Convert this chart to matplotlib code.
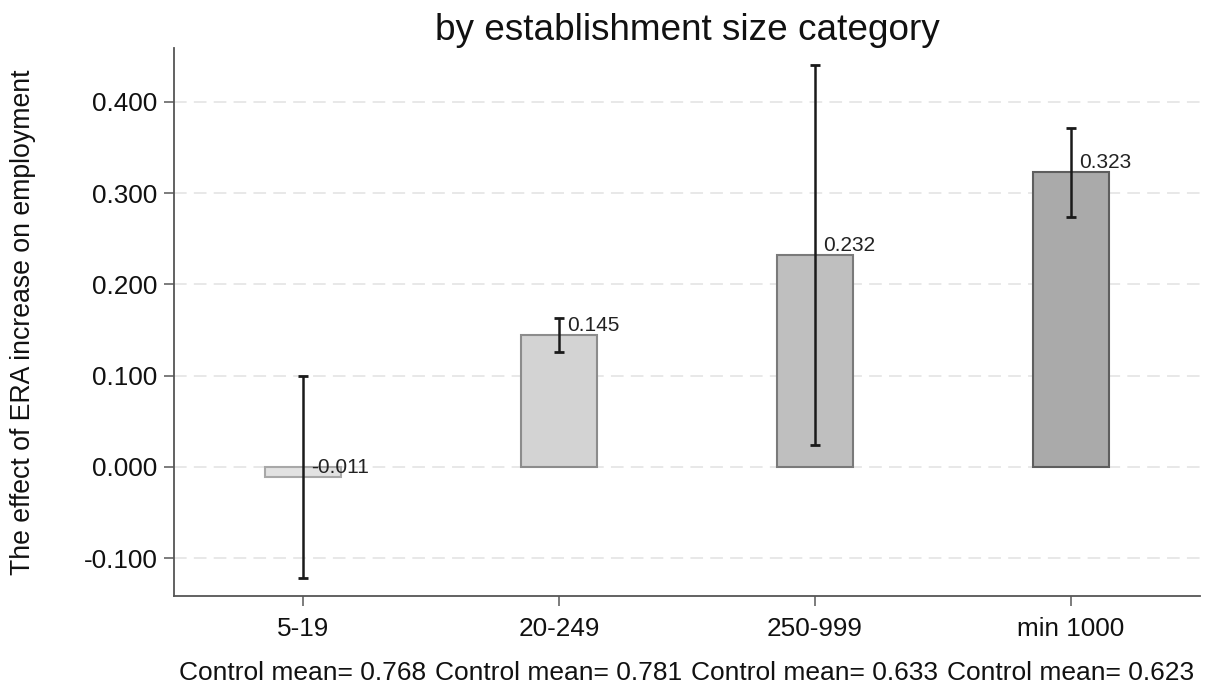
import matplotlib
matplotlib.use("Agg")
import matplotlib.pyplot as plt
from matplotlib.transforms import blended_transform_factory

plt.rcParams['font.family'] = ['Liberation Sans', 'DejaVu Sans']

categories = ["5-19", "20-249", "250-999", "min 1000"]
effects = [-0.011, 0.145, 0.232, 0.323]
ci_low = [-0.122, 0.126, 0.024, 0.274]
ci_high = [0.100, 0.163, 0.440, 0.371]
control_means = [0.768, 0.781, 0.633, 0.623]
bar_colors = ["#e2e2e2", "#d3d3d3", "#bfbfbf", "#aaaaaa"]
edge_colors = ["#a8a8a8", "#8c8c8c", "#7a7a7a", "#5e5e5e"]
yticks = [-0.1, 0.0, 0.1, 0.2, 0.3, 0.4]

fig = plt.figure(figsize=(12.06, 6.89), dpi=100)
ax = fig.add_axes([174 / 1206, 93 / 689, 1026 / 1206, 548 / 689])

x = list(range(len(categories)))
ax.bar(x, effects, width=0.30, color=bar_colors, edgecolor=edge_colors,
       linewidth=1.5, zorder=2)

lower = [e - lo for e, lo in zip(effects, ci_low)]
upper = [hi - e for e, hi in zip(effects, ci_high)]
ax.errorbar(x, effects, yerr=[lower, upper], fmt="none", ecolor="#1a1a1a",
            elinewidth=1.8, capsize=3.6, capthick=2.0, zorder=3)

for xi, v in zip(x, effects):
    ax.annotate(f"{v:.3f}", (xi, v), xytext=(6, 0), textcoords="offset points",
                ha="left", va="bottom", fontsize=15, color="#222222", zorder=4)

ax.set_xlim(-0.504, 3.504)
ax.set_ylim(-0.1414, 0.459)
ax.set_yticks(yticks)
ax.set_yticklabels([f"{t:.3f}" for t in yticks])
ax.set_xticks(x)
ax.set_xticklabels(categories)

ax.grid(axis="y", color="#e6e6e6", linestyle=(0, (7, 4)), linewidth=1.3, zorder=0)
ax.set_axisbelow(True)

for side in ("top", "right"):
    ax.spines[side].set_visible(False)
for side in ("left", "bottom"):
    ax.spines[side].set_color("#555555")
    ax.spines[side].set_linewidth(1.3)

ax.tick_params(axis="both", direction="out", length=7, width=1.2, color="#666666",
               labelsize=18.8, labelcolor="#111111")
ax.tick_params(axis="x", pad=8)
ax.tick_params(axis="y", pad=5)

ax.set_ylabel("The effect of ERA increase on employment", fontsize=19.2,
              color="#111111", va="center")
ax.yaxis.set_label_coords(
    23 / 1206, 0.5, transform=blended_transform_factory(fig.transFigure, ax.transAxes))
ax.set_title("by establishment size category", fontsize=26.6, color="#111111", pad=6)

trans = blended_transform_factory(ax.transData, fig.transFigure)
for xi, m in zip(x, control_means):
    fig.text(xi, 1 - 673 / 689, f"Control mean= {m:.3f}", transform=trans,
             ha="center", va="center", fontsize=19, color="#111111")

fig.savefig("out.png", dpi=100, facecolor="white")
